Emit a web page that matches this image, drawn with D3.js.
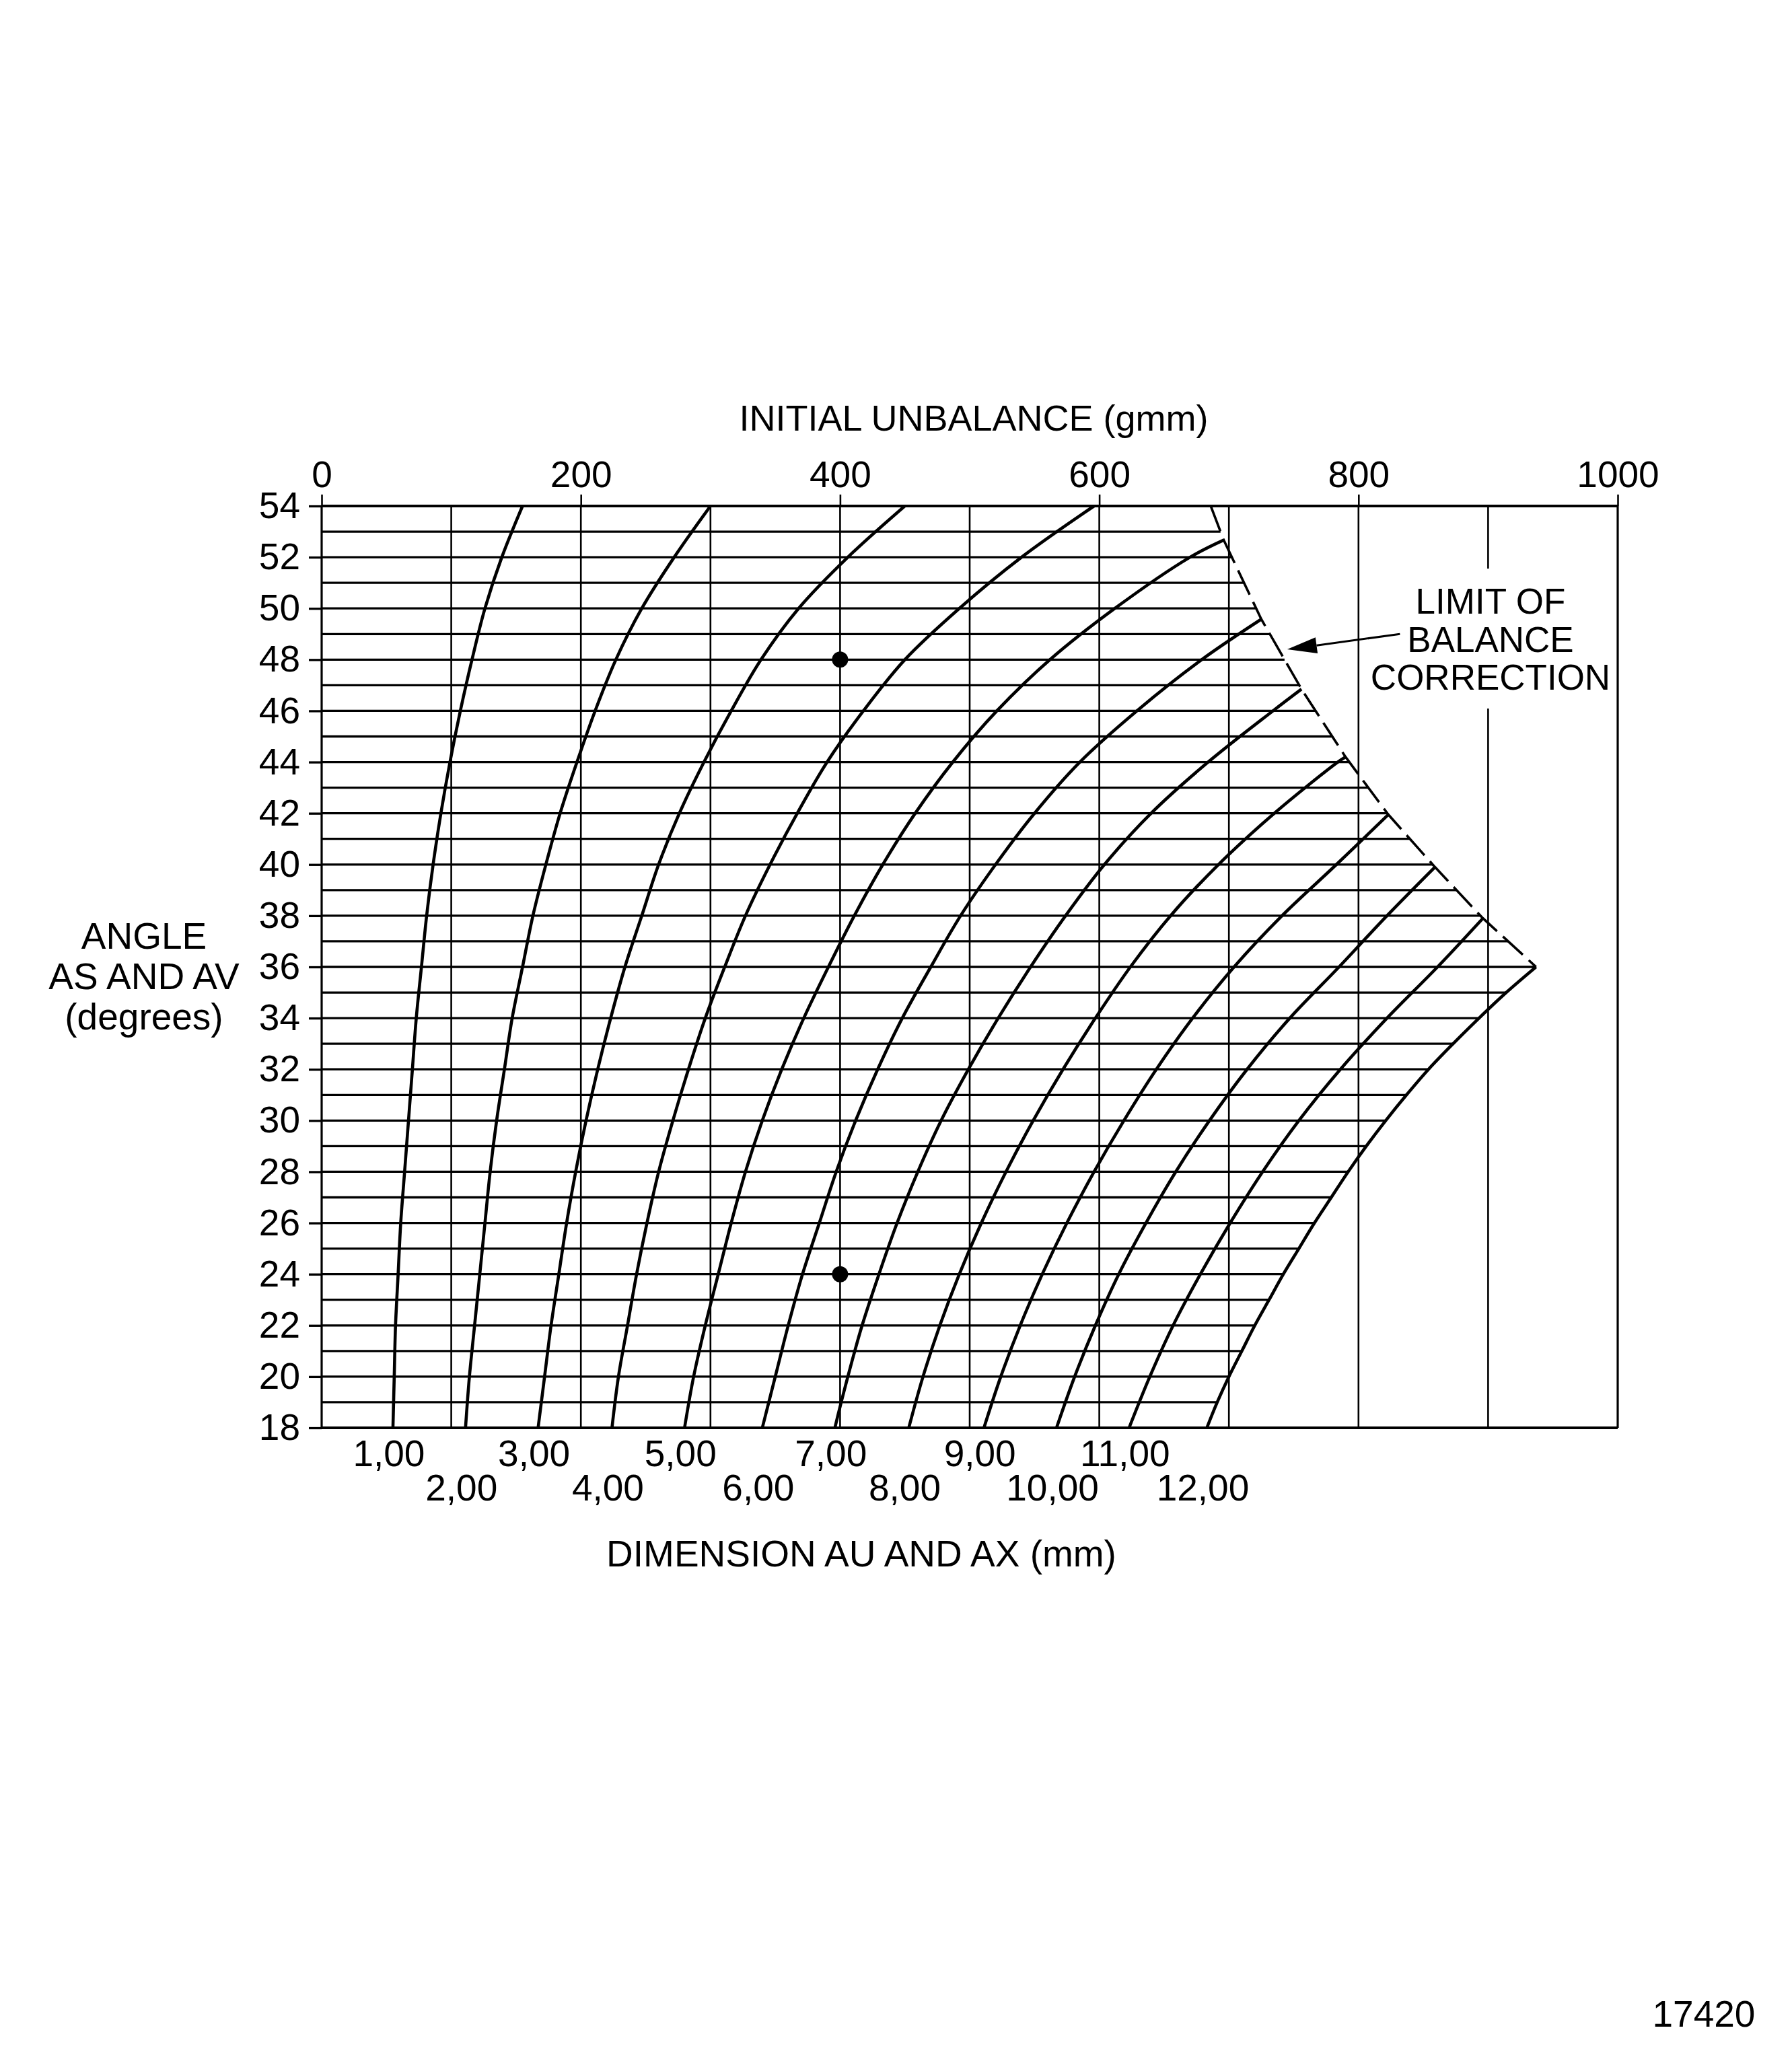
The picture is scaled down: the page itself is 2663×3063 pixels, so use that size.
<!DOCTYPE html>
<html><head><meta charset="utf-8">
<script src="https://cdn.jsdelivr.net/npm/d3@7"></script>
<style>
html,body{margin:0;padding:0;background:#fff;}
svg{display:block;background:#fff;}
text{font-family:"Liberation Sans",Arial,Helvetica,sans-serif;fill:#000;}
</style></head><body>
<svg id="chart" width="2663" height="3063"></svg>
<script>
// ---------------- data ----------------
const unbalanceTicks = [0, 200, 400, 600, 800, 1000];
const unbalanceGrid = [0, 100, 200, 300, 400, 500, 600, 700, 800, 900, 1000];
const angleTicks = [18, 20, 22, 24, 26, 28, 30, 32, 34, 36, 38, 40, 42, 44, 46, 48, 50, 52, 54];
const dimensionLabels = ["1,00","2,00","3,00","4,00","5,00","6,00","7,00","8,00","9,00","10,00","11,00","12,00"];

// each point: [angle (degrees), initial unbalance (gmm)]
const curve1 = [[18,55],[20,56],[22,57],[24,59],[26,61],[28,64],[30,67],[32,70],[34,73],[36,77],[38,81],[40,86],[42,92],[44,99],[46,107],[48,116],[50,126],[52,139],[54,155]];
const curve2 = [[18,111],[20,114],[22,118],[24,122],[26,126],[28,130],[30,135],[32,141],[34,147],[36,155],[38,163],[40,173],[42,184],[44,197],[46,211],[48,227],[50,247],[52,272],[54,300]];
const curve3 = [[18,167],[20,172],[22,177],[24,183],[26,189],[28,196],[30,204],[32,213],[34,223],[36,234],[38,247],[40,260],[42,276],[44,295],[46,316],[48,339],[50,368],[52,406],[54,450]];
const curve4 = [[18,224],[20,229],[22,236],[24,243],[26,251],[28,260],[30,271],[32,283],[34,296],[36,311],[38,327],[40,346],[42,367],[44,390],[46,418],[48,450],[50,492],[52,540],[54,596]];
const curve5 = [[18,280],[20,287],[22,296],[24,306],[26,316],[28,327],[30,340],[32,355],[34,372],[36,391],[38,411],[40,433],[42,458],[44,487],[46,521],[48,562],[50,612],[52,670],[52.67,696]];
const curve6 = [[18,340],[20,350],[22,360],[24,371],[26,384],[28,397],[30,412],[32,429],[34,448],[36,470],[38,493],[40,520],[42,550],[44,585],[46,629],[48,679],[49.58,725]];
const curve7 = [[18,396],[20,406],[22,417],[24,430],[26,444],[28,460],[30,478],[32,499],[34,522],[36,547],[38,574],[40,604],[42,640],[44,684],[46,734],[46.85,756]];
const curve8 = [[18,453],[20,464],[22,477],[24,492],[26,509],[28,528],[30,549],[32,572],[34,597],[36,624],[38,655],[40,692],[42,735],[44,784],[44.2,790]];
const curve9 = [[18,511],[20,524],[22,539],[24,556],[26,575],[28,596],[30,619],[32,644],[34,672],[36,704],[38,741],[40,783],[41.95,823]];
const curve10 = [[18,567],[20,581],[22,597],[24,615],[26,636],[28,659],[30,685],[32,714],[34,747],[36,785],[38,822],[39.9,859]];
const curve11 = [[18,623],[20,639],[22,657],[24,678],[26,701],[28,726],[30,754],[32,786],[34,822],[36,861],[37.9,896]];
const curve12 = [[18,683],[19,691],[20,700],[21,710],[22,720],[23,731],[24,742],[25,754],[26,766],[27,779],[28,792],[29,806],[30,821],[31,837],[32,854],[33,873],[34,893],[35,914],[36,937]];
const limitLine = [[54,686],[52.67,696],[49.58,725],[46.85,756],[44.2,790],[41.95,823],[39.9,859],[37.9,896],[36,937]];
const markedPoints = [[48,400],[24,400]];
const arrowFrom = [49.0, 832];
const arrowTo = [48.4, 745];

const curves = [curve1,curve2,curve3,curve4,curve5,curve6,curve7,curve8,curve9,curve10,curve11,curve12];

// ---------------- layout ----------------
const svg = d3.select("#chart");
const x = d3.scaleLinear().domain([0, 1000]).range([478, 2404]);
const y = d3.scaleLinear().domain([18, 54]).range([2122, 752]);
const FS = 55;

svg.append("rect").attr("width", 2663).attr("height", 3063).attr("fill", "#fff");

function interpAt(points, a) {
  const p = points.slice().sort((m, n) => m[0] - n[0]);
  if (a <= p[0][0]) return p[0][1];
  for (let i = 1; i < p.length; i++) {
    if (a <= p[i][0]) {
      const t = (a - p[i-1][0]) / (p[i][0] - p[i-1][0]);
      return p[i-1][1] + t * (p[i][1] - p[i-1][1]);
    }
  }
  return p[p.length-1][1];
}
function boundary(a) {
  return a >= 36 ? interpAt(limitLine, a) : interpAt(curve12, a);
}

const grid = svg.append("g").attr("stroke", "#000").attr("fill", "none");

// vertical grid lines
grid.selectAll("line.v").data(unbalanceGrid).join("line")
  .attr("class", "v")
  .attr("x1", d => x(d)).attr("x2", d => x(d))
  .attr("y1", y(54)).attr("y2", y(18))
  .attr("stroke-width", d => (d === 0 || d === 1000) ? 3.2 : 2.6);

// horizontal grid lines, every degree, clipped at the limit
const allAngles = d3.range(18, 55, 1);
grid.selectAll("line.h").data(allAngles).join("line")
  .attr("class", "h")
  .attr("x1", x(0))
  .attr("x2", a => (a === 18 || a === 54) ? x(1000) : x(boundary(a)))
  .attr("y1", a => y(a)).attr("y2", a => y(a))
  .attr("stroke-width", a => (a === 18 || a === 54) ? 3.8 : 3.3);

// top axis
const topAxis = svg.append("g").attr("transform", `translate(0,${y(54)})`)
  .call(d3.axisTop(x).tickValues(unbalanceTicks).tickSize(17).tickPadding(11).tickFormat(d3.format("d")));
topAxis.select(".domain").remove();
topAxis.selectAll("line").attr("stroke", "#000").attr("stroke-width", 2.6);
topAxis.selectAll("text").attr("font-size", FS).attr("font-family", null);

// left axis
const leftAxis = svg.append("g").attr("transform", `translate(${x(0)},0)`)
  .call(d3.axisLeft(y).tickValues(angleTicks).tickSize(19).tickPadding(13).tickFormat(d3.format("d")));
leftAxis.select(".domain").remove();
leftAxis.selectAll("line").attr("stroke", "#000").attr("stroke-width", 3.3);
leftAxis.selectAll("text").attr("font-size", FS).attr("font-family", null);

// axis titles
svg.append("text").attr("x", 1447).attr("y", 640).attr("text-anchor", "middle")
  .attr("font-size", 54).text("INITIAL UNBALANCE (gmm)");

const yTitle = ["ANGLE", "AS AND AV", "(degrees)"];
svg.selectAll("text.ytitle").data(yTitle).join("text")
  .attr("class", "ytitle")
  .attr("x", 214).attr("y", (d, i) => 1410 + i * 60)
  .attr("text-anchor", "middle").attr("font-size", FS).text(d => d);

svg.append("text").attr("x", 1280).attr("y", 2328).attr("text-anchor", "middle")
  .attr("font-size", FS).text("DIMENSION AU AND AX (mm)");

// dimension labels under the curves
svg.selectAll("text.dim").data(dimensionLabels).join("text")
  .attr("class", "dim")
  .attr("x", (d, i) => x(curves[i][0][1]) - 6)
  .attr("y", (d, i) => i % 2 === 0 ? 2179 : 2230)
  .attr("text-anchor", "middle").attr("font-size", FS).text(d => d);

// white block behind annotation (interrupts the 900 grid line)
svg.append("rect").attr("x", 2040).attr("y", 845).attr("width", 352).attr("height", 208).attr("fill", "#fff");

const note = ["LIMIT OF", "BALANCE", "CORRECTION"];
svg.selectAll("text.note").data(note).join("text")
  .attr("class", "note")
  .attr("x", 2215).attr("y", (d, i) => 912 + i * 56.5)
  .attr("text-anchor", "middle").attr("font-size", 53).text(d => d);

// curves
const line = d3.line()
  .x(d => x(d[1])).y(d => y(d[0]))
  .curve(d3.curveCatmullRom.alpha(0.5));
svg.append("g").selectAll("path.curve").data(curves).join("path")
  .attr("class", "curve")
  .attr("d", c => line(c.slice().sort((a, b) => b[0] - a[0])))
  .attr("fill", "none").attr("stroke", "#000").attr("stroke-width", 4.6)
  .attr("stroke-linejoin", "round");

// limit of balance correction (dashed)
svg.append("path")
  .attr("d", d3.line().x(d => x(d[1])).y(d => y(d[0]))(limitLine))
  .attr("fill", "none").attr("stroke", "#000").attr("stroke-width", 3.6)
  .attr("stroke-dasharray", "40,12");

// marked points
svg.selectAll("circle.pt").data(markedPoints).join("circle")
  .attr("class", "pt")
  .attr("cx", d => x(d[1])).attr("cy", d => y(d[0])).attr("r", 12).attr("fill", "#000");

// arrow
const ax0 = x(arrowFrom[1]), ay0 = y(arrowFrom[0]);
const ax1 = x(arrowTo[1]), ay1 = y(arrowTo[0]);
const ang = Math.atan2(ay1 - ay0, ax1 - ax0);
const headLen = 44, headW = 12;
const bx = ax1 - headLen * Math.cos(ang), by = ay1 - headLen * Math.sin(ang);
svg.append("line").attr("x1", ax0).attr("y1", ay0).attr("x2", bx).attr("y2", by)
  .attr("stroke", "#000").attr("stroke-width", 3);
svg.append("path")
  .attr("d", `M${ax1},${ay1}L${bx - headW * Math.sin(ang)},${by + headW * Math.cos(ang)}L${bx + headW * Math.sin(ang)},${by - headW * Math.cos(ang)}Z`)
  .attr("fill", "#000");

// figure number
svg.append("text").attr("x", 2532).attr("y", 3012).attr("text-anchor", "middle")
  .attr("font-size", FS).text("17420");
</script>
</body></html>
